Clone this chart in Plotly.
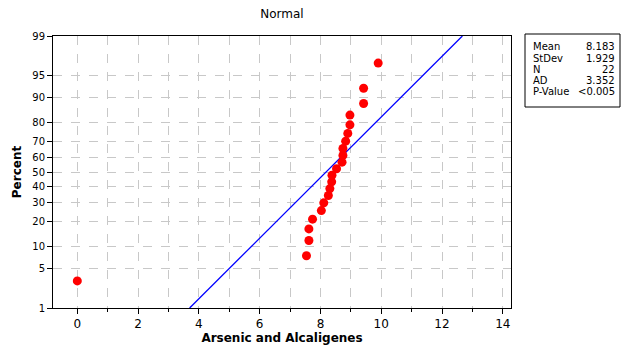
import plotly.graph_objects as go
from statistics import NormalDist

# Data (sorted)
values = [0.0, 7.54, 7.62, 7.62, 7.74, 8.03, 8.11, 8.26, 8.31, 8.37, 8.38,
          8.53, 8.71, 8.74, 8.74, 8.83, 8.90, 8.97, 8.97, 9.42, 9.42, 9.90]
mean_val = 8.183
sd_val = 1.929
stats_labels = ["Mean", "StDev", "N", "AD", "P-Value"]
stats_values = ["8.183", "1.929", "22", "3.352", "<0.005"]
pct_ticks = [1, 5, 10, 20, 30, 40, 50, 60, 70, 80, 90, 95, 99]

nd = NormalDist()
n = len(values)
probs = [(i + 1 - 0.3) / (n + 0.4) for i in range(n)]
zs = [nd.inv_cdf(p) for p in probs]

zlo, zhi = nd.inv_cdf(0.01), nd.inv_cdf(0.99)
line_z = [zlo, zhi]
line_x = [mean_val + sd_val * z for z in line_z]

fig = go.Figure()
fig.add_trace(go.Scatter(x=line_x, y=line_z, mode="lines",
                         line=dict(color="#0000ff", width=1.3), hoverinfo="skip"))
fig.add_trace(go.Scatter(x=values, y=zs, mode="markers",
                         marker=dict(color="#ff0000", size=9, line=dict(width=0))))

font = "DejaVu Sans, Verdana, sans-serif"
fig.update_layout(
    width=622, height=347,
    margin=dict(l=53, r=111, t=36, b=39),
    paper_bgcolor="white", plot_bgcolor="white",
    showlegend=False,
    font=dict(family=font, color="black"),
    title=dict(text="Normal", x=(53 + 511) / 2 / 622, xanchor="center",
               y=1 - 14 / 347, yanchor="middle", font=dict(size=12, family=font)),
)
fig.update_xaxes(
    range=[-0.8, 14.27], tickvals=list(range(0, 15, 2)),
    ticks="outside", ticklen=5, tickcolor="black",
    tickfont=dict(size=12), automargin=False,
    showline=True, linecolor="black", linewidth=1, mirror=True,
    showgrid=True, gridcolor="#c8c8c8", griddash="dash", gridwidth=1,
    zeroline=False,
    minor=dict(tickvals=list(range(1, 15, 2)), ticks="outside", ticklen=3,
               tickcolor="black", showgrid=True, gridcolor="#c8c8c8", griddash="dash"),
    title=dict(text="<b>Arsenic and Alcaligenes</b>", font=dict(size=12), standoff=0),
)
fig.update_yaxes(
    range=[zlo, zhi],
    tickvals=[nd.inv_cdf(p / 100) for p in pct_ticks],
    ticktext=[str(p) for p in pct_ticks],
    ticks="outside", ticklen=5, tickcolor="black",
    tickfont=dict(size=10), automargin=False,
    showline=True, linecolor="black", linewidth=1, mirror=True,
    showgrid=True, gridcolor="#c8c8c8", griddash="dash", gridwidth=1,
    zeroline=False,
    title=dict(text="<b>Percent</b>", font=dict(size=12), standoff=8),
)

# Stats box
box_l, box_r, box_t, box_b = 525, 620, 34, 107
fig.add_shape(type="rect", xref="paper", yref="paper",
              x0=(box_l - 53) / 458, x1=(box_r - 53) / 458,
              y0=1 - (box_b - 36) / 272, y1=1 - (box_t - 36) / 272,
              line=dict(color="black", width=1), fillcolor="white")
row_y = [46.7, 58, 69.3, 80.7, 92]
for lab, val, yy in zip(stats_labels, stats_values, row_y):
    yp = 1 - (yy - 36) / 272
    fig.add_annotation(text=lab, xref="paper", yref="paper",
                       x=(531 - 53) / 458, y=yp, xanchor="left", yanchor="middle",
                       showarrow=False, font=dict(size=10, family=font))
    fig.add_annotation(text=val, xref="paper", yref="paper",
                       x=(617 - 53) / 458, y=yp, xanchor="right", yanchor="middle",
                       showarrow=False, font=dict(size=10, family=font))

fig.write_html("out.html")
